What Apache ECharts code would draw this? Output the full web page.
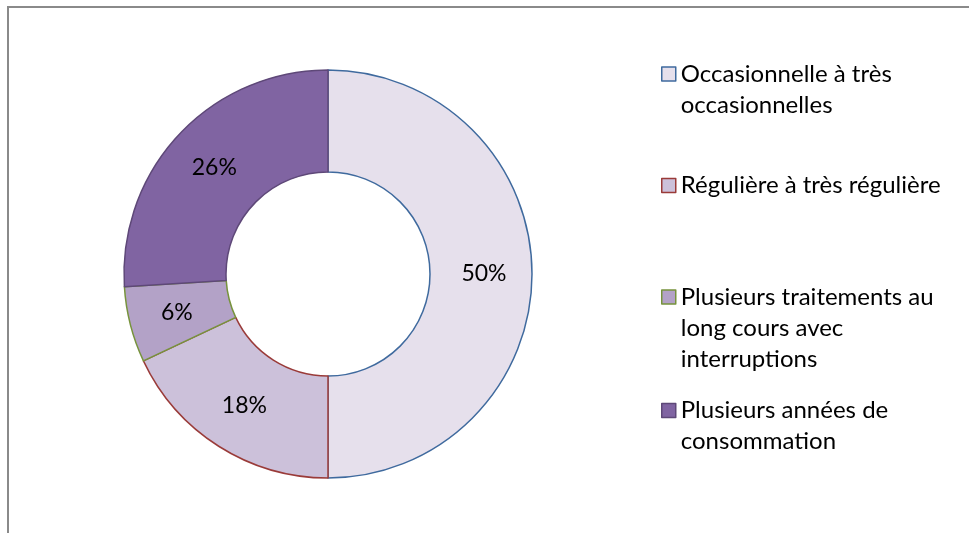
<!DOCTYPE html>
<html>
<head>
<meta charset="utf-8">
<script src="https://cdn.jsdelivr.net/npm/echarts@6/dist/echarts.min.js"></script>
<style>
  html, body { margin: 0; padding: 0; background: #ffffff; }
  #chart { width: 969px; height: 533px; }
</style>
</head>
<body>
<div id="chart"></div>
<script>
// Consumption profile categories and their shares (%)
const categories = [
  'Occasionnelle à très occasionnelles',
  'Régulière à très régulière',
  'Plusieurs traitements au long cours avec interruptions',
  'Plusieurs années de consommation'
];
const legendLines = [
  ['Occasionnelle à très', 'occasionnelles'],
  ['Régulière à très régulière'],
  ['Plusieurs traitements au', 'long cours avec', 'interruptions'],
  ['Plusieurs années de', 'consommation']
];
const shares = [50, 18, 6, 26];

const fills = ['#E6E0EC', '#CCC1DA', '#B3A2C7', '#8064A2'];
const borders = ['#3F6A9E', '#9A3B39', '#77933C', '#5E4878'];

const FONT = 'Lato, "Open Sans", sans-serif';
const LINE_H = 31;
const legendCenters = [74, 185.5, 297, 410.5];

const chart = echarts.init(document.getElementById('chart'), null, { renderer: 'canvas' });

// one legend block per category so each marker sits on its first text line
const legends = categories.map((name, i) => {
  const lines = legendLines[i];
  const n = lines.length;
  const pad = new Array(n - 1).fill('');
  return {
    orient: 'vertical',
    left: 661,
    top: legendCenters[i] - (n - 1) * LINE_H - LINE_H / 2,
    padding: 0,
    icon: 'rect',
    itemWidth: 14,
    itemHeight: 14,
    itemGap: 0,
    selectedMode: false,
    data: [{
      name: name,
      itemStyle: { color: fills[i], borderColor: borders[i], borderWidth: 1.5 }
    }],
    formatter: () => pad.concat(lines).join('\n'),
    textStyle: { fontFamily: FONT, fontSize: 24, lineHeight: LINE_H, color: '#000' }
  };
});

chart.setOption({
  animation: false,
  backgroundColor: '#ffffff',
  graphic: [{
    type: 'rect',
    shape: { x: 8, y: 7, width: 1200, height: 1200 },
    style: { fill: 'none', stroke: '#8a8a8a', lineWidth: 2 },
    silent: true
  }],
  legend: legends,
  series: [{
    type: 'pie',
    center: [328, 274],
    radius: [102, 204],
    startAngle: 90,
    clockwise: true,
    avoidLabelOverlap: false,
    label: {
      show: true,
      position: 'inside',
      formatter: '{c}%',
      fontFamily: FONT,
      fontSize: 23,
      color: '#000',
      padding: [6, 0, 0, 0]
    },
    labelLine: { show: false },
    emphasis: { disabled: true },
    data: categories.map((name, i) => ({
      name: name,
      value: shares[i],
      itemStyle: { color: fills[i], borderColor: borders[i], borderWidth: 1.5 }
    }))
  }]
});
</script>
</body>
</html>
